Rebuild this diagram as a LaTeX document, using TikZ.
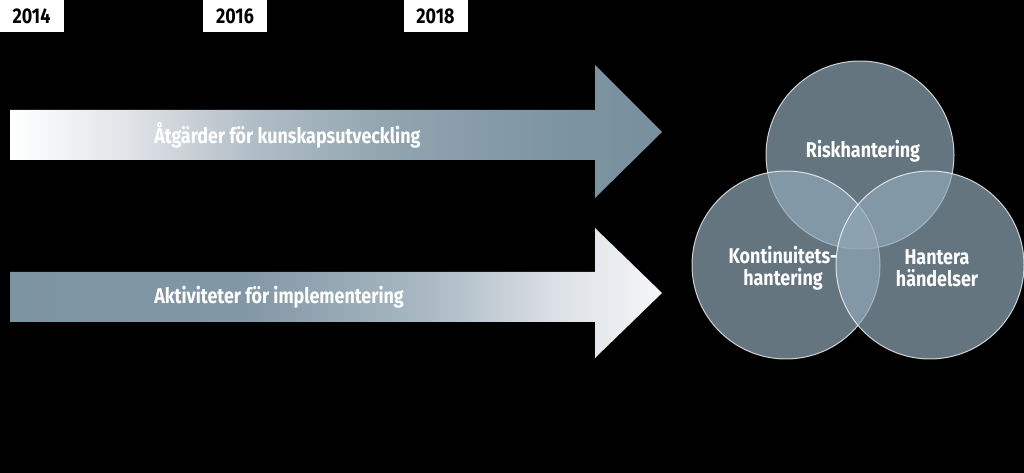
\documentclass[tikz,border=0pt]{standalone}
\usepackage{fontspec}
\setmainfont{Fira Sans}[FakeStretch=0.84]
\usetikzlibrary{positioning}
\definecolor{steel}{RGB}{122,145,160}
\definecolor{vennblue}{RGB}{145,167,183}
% shadings of the two arrows (path box runs from 25bp to 75bp)
\pgfdeclarehorizontalshading{fromwhite}{100bp}{color(0bp)=(white); color(25bp)=(white);
  color(34bp)=(rgb,255:red,225;green,228;blue,232); color(44bp)=(rgb,255:red,175;green,188;blue,197);
  color(54bp)=(rgb,255:red,145;green,165;blue,175); color(67bp)=(rgb,255:red,125;green,148;blue,162);
  color(75bp)=(rgb,255:red,120;green,143;blue,158); color(100bp)=(rgb,255:red,120;green,143;blue,158)}
\pgfdeclarehorizontalshading{towhite}{100bp}{color(0bp)=(rgb,255:red,125;green,148;blue,162);
  color(25bp)=(rgb,255:red,125;green,148;blue,162); color(43bp)=(rgb,255:red,130;green,151;blue,165);
  color(57bp)=(rgb,255:red,170;green,185;blue,195); color(67bp)=(rgb,255:red,220;green,225;blue,230);
  color(75bp)=(rgb,255:red,245;green,246;blue,248); color(100bp)=(rgb,255:red,245;green,246;blue,248)}
\tikzset{
  year/.style={fill=white, text=black, font=\fontsize{16}{18}\selectfont\bfseries,
    minimum width=48pt, minimum height=24pt, inner sep=0pt},
  venn/.style={circle, fill=vennblue, fill opacity=0.7, draw=white, draw opacity=0.75,
    line width=0.75pt, minimum size=141pt, inner sep=0pt},
  lbl/.style={text=white, font=\fontsize{16}{16.5}\selectfont\bfseries, align=center, inner sep=0pt}
}
\begin{document}
\begin{tikzpicture}[x=0.75pt, y=-0.75pt]
\useasboundingbox (0,0) rectangle (1024,473);
\fill[black] (0,0) rectangle (1024,473);
%
\node[year] (y2014) at (31.5,16) {2014};
\node[year] (y2016) at (235,16) {2016};
\node[year] (y2018) at (435.5,16) {2018};
%
\shade[shading=fromwhite] (10,110) -- (595,110) -- (595,65) -- (662,132)
  -- (595,198) -- (595,160) -- (10,160) -- cycle;
\shade[shading=towhite] (10,272) -- (595,272) -- (595,228) -- (662,293)
  -- (595,358) -- (595,322) -- (10,322) -- cycle;
\node[lbl, anchor=west] (kunskap) at (154,135) {Åtgärder för kunskapsutveckling};
\node[lbl, anchor=west] (impl) at (154,297) {Aktiviteter för implementering};
%
\node[venn] (risk) at (860,155) {};
\node[venn] (kont) at (786,265) {};
\node[venn] (hant) at (930,265) {};
\node[lbl] (risktxt) at (863,151) {Riskhantering};
\node[lbl] (konttxt) at (783,268) {Kontinuitets-\\hantering};
\node[lbl] (hanttxt) at (937,268) {Hantera\\händelser};
\end{tikzpicture}
\end{document}
